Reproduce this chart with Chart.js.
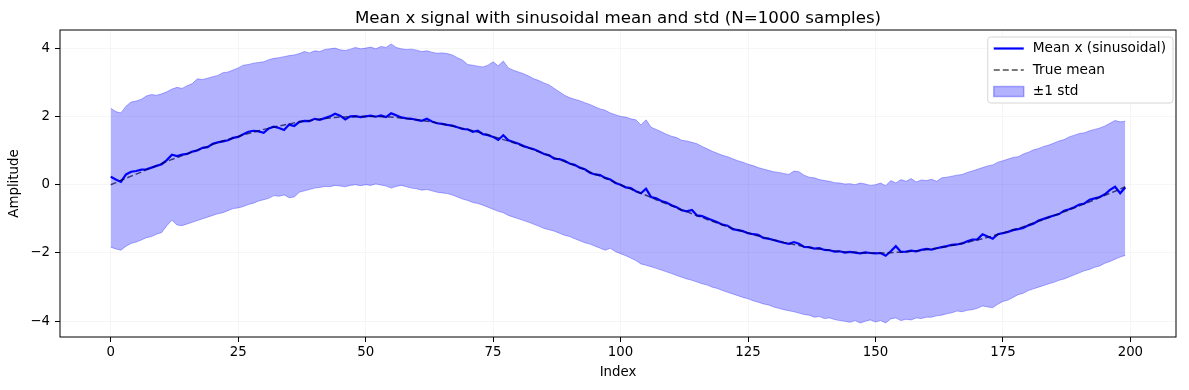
<!DOCTYPE html>
<html>
<head>
<meta charset="utf-8">
<script src="https://cdn.jsdelivr.net/npm/chart.js@4.4.0/dist/chart.umd.min.js"></script>
<style>
  html, body { margin: 0; padding: 0; background: #fff; }
  canvas { display: block; }
</style>
</head>
<body>
<canvas id="signalChart" width="1189" height="390"></canvas>
<script>
// tick labels
const xTicks = [0, 25, 50, 75, 100, 125, 150, 175, 200];
const yTicks = [-4, -2, 0, 2, 4];

// values, index 0..199
const meanX = [
  0.23, 0.15, 0.08, 0.30, 0.38, 0.40, 0.44, 0.45, 0.50, 0.55,
  0.60, 0.72, 0.88, 0.84, 0.88, 0.90, 0.97, 1.00, 1.08, 1.10,
  1.20, 1.24, 1.27, 1.30, 1.37, 1.40, 1.48, 1.55, 1.58, 1.56,
  1.52, 1.65, 1.70, 1.66, 1.60, 1.76, 1.72, 1.84, 1.87, 1.86,
  1.93, 1.90, 1.95, 2.00, 2.08, 2.02, 1.91, 2.00, 2.01, 1.98,
  2.00, 2.02, 1.99, 2.03, 1.98, 2.09, 2.03, 1.97, 1.94, 1.93,
  1.90, 1.87, 1.93, 1.85, 1.80, 1.78, 1.75, 1.73, 1.68, 1.63,
  1.62, 1.55, 1.58, 1.48, 1.45, 1.40, 1.31, 1.45, 1.30, 1.25,
  1.20, 1.13, 1.08, 1.04, 0.97, 0.90, 0.86, 0.76, 0.75, 0.70,
  0.62, 0.58, 0.50, 0.45, 0.35, 0.30, 0.28, 0.20, 0.15, 0.05,
  0.00, -0.08, -0.10, -0.19, -0.25, -0.12, -0.36, -0.40, -0.48, -0.52,
  -0.60, -0.66, -0.75, -0.78, -0.74, -0.90, -0.92, -0.98, -1.04, -1.10,
  -1.17, -1.20, -1.30, -1.33, -1.36, -1.42, -1.45, -1.47, -1.56, -1.58,
  -1.62, -1.66, -1.70, -1.73, -1.68, -1.73, -1.82, -1.83, -1.87, -1.86,
  -1.91, -1.92, -1.96, -1.95, -1.99, -1.97, -1.99, -2.01, -1.98, -2.00,
  -2.01, -2.00, -2.08, -1.95, -1.80, -1.97, -1.96, -1.93, -1.95, -1.91,
  -1.88, -1.90, -1.86, -1.83, -1.80, -1.76, -1.75, -1.72, -1.66, -1.61,
  -1.60, -1.45, -1.52, -1.58, -1.45, -1.42, -1.38, -1.33, -1.30, -1.27,
  -1.19, -1.14, -1.05, -1.00, -0.95, -0.90, -0.86, -0.76, -0.72, -0.66,
  -0.58, -0.55, -0.44, -0.40, -0.36, -0.28, -0.15, -0.06, -0.25, -0.08
];

const trueMean = [
  0.00, 0.06, 0.13, 0.19, 0.25, 0.31, 0.37, 0.44, 0.50, 0.56,
  0.62, 0.68, 0.74, 0.79, 0.85, 0.91, 0.96, 1.02, 1.07, 1.12,
  1.18, 1.23, 1.28, 1.32, 1.37, 1.41, 1.46, 1.50, 1.54, 1.58,
  1.62, 1.65, 1.69, 1.72, 1.75, 1.78, 1.81, 1.84, 1.86, 1.88,
  1.90, 1.92, 1.94, 1.95, 1.97, 1.98, 1.98, 1.99, 2.00, 2.00,
  2.00, 2.00, 2.00, 1.99, 1.98, 1.98, 1.97, 1.95, 1.94, 1.92,
  1.90, 1.88, 1.86, 1.84, 1.81, 1.78, 1.75, 1.72, 1.69, 1.65,
  1.62, 1.58, 1.54, 1.50, 1.46, 1.41, 1.37, 1.32, 1.28, 1.23,
  1.18, 1.12, 1.07, 1.02, 0.96, 0.91, 0.85, 0.79, 0.74, 0.68,
  0.62, 0.56, 0.50, 0.44, 0.37, 0.31, 0.25, 0.19, 0.13, 0.06,
  0.00, -0.06, -0.13, -0.19, -0.25, -0.31, -0.37, -0.44, -0.50, -0.56,
  -0.62, -0.68, -0.74, -0.79, -0.85, -0.91, -0.96, -1.02, -1.07, -1.12,
  -1.18, -1.23, -1.28, -1.32, -1.37, -1.41, -1.46, -1.50, -1.54, -1.58,
  -1.62, -1.65, -1.69, -1.72, -1.75, -1.78, -1.81, -1.84, -1.86, -1.88,
  -1.90, -1.92, -1.94, -1.95, -1.97, -1.98, -1.98, -1.99, -2.00, -2.00,
  -2.00, -2.00, -2.00, -1.99, -1.98, -1.98, -1.97, -1.95, -1.94, -1.92,
  -1.90, -1.88, -1.86, -1.84, -1.81, -1.78, -1.75, -1.72, -1.69, -1.65,
  -1.62, -1.58, -1.54, -1.50, -1.46, -1.41, -1.37, -1.32, -1.28, -1.23,
  -1.18, -1.12, -1.07, -1.02, -0.96, -0.91, -0.85, -0.79, -0.74, -0.68,
  -0.62, -0.56, -0.50, -0.44, -0.37, -0.31, -0.25, -0.19, -0.13, -0.06
];

const stdUpper = [
  2.24, 2.14, 2.10, 2.30, 2.42, 2.45, 2.50, 2.60, 2.64, 2.62,
  2.66, 2.72, 2.80, 2.85, 2.82, 2.90, 2.96, 3.10, 3.08, 3.12,
  3.16, 3.20, 3.28, 3.30, 3.36, 3.42, 3.50, 3.52, 3.56, 3.58,
  3.60, 3.66, 3.70, 3.72, 3.75, 3.78, 3.80, 3.84, 3.90, 3.86,
  3.92, 3.90, 3.96, 3.98, 4.00, 3.95, 3.93, 3.97, 4.02, 3.98,
  4.00, 4.03, 3.98, 4.05, 4.02, 4.12, 4.02, 3.98, 3.96, 3.97,
  3.94, 3.90, 3.92, 3.88, 3.85, 3.86, 3.84, 3.80, 3.72, 3.65,
  3.52, 3.50, 3.47, 3.45, 3.50, 3.60, 3.48, 3.62, 3.42, 3.35,
  3.30, 3.25, 3.18, 3.10, 3.05, 2.98, 2.92, 2.82, 2.72, 2.62,
  2.55, 2.50, 2.46, 2.40, 2.35, 2.28, 2.22, 2.18, 2.10, 2.05,
  2.00, 1.98, 1.93, 1.90, 1.75, 1.90, 1.68, 1.62, 1.55, 1.48,
  1.42, 1.38, 1.30, 1.28, 1.24, 1.20, 1.12, 1.05, 0.98, 0.92,
  0.86, 0.82, 0.76, 0.70, 0.66, 0.60, 0.56, 0.50, 0.46, 0.42,
  0.38, 0.36, 0.33, 0.30, 0.40, 0.38, 0.28, 0.22, 0.20, 0.15,
  0.12, 0.10, 0.06, 0.05, 0.02, 0.03, 0.00, 0.05, 0.02, -0.02,
  0.00, 0.05, -0.03, 0.12, 0.05, 0.15, 0.10, 0.18, 0.08, 0.14,
  0.12, 0.16, 0.10, 0.20, 0.22, 0.25, 0.28, 0.30, 0.36, 0.40,
  0.45, 0.50, 0.55, 0.58, 0.66, 0.70, 0.75, 0.80, 0.82, 0.90,
  0.95, 1.02, 1.06, 1.12, 1.16, 1.22, 1.28, 1.32, 1.40, 1.45,
  1.50, 1.52, 1.58, 1.62, 1.66, 1.72, 1.80, 1.88, 1.84, 1.86
];

const stdLower = [
  -1.83, -1.88, -1.92, -1.80, -1.72, -1.68, -1.62, -1.55, -1.52, -1.45,
  -1.40, -1.20, -1.04, -1.18, -1.20, -1.15, -1.10, -1.05, -1.00, -0.95,
  -0.90, -0.85, -0.82, -0.76, -0.70, -0.68, -0.64, -0.58, -0.54, -0.48,
  -0.44, -0.40, -0.32, -0.34, -0.30, -0.38, -0.36, -0.22, -0.18, -0.14,
  -0.10, -0.08, -0.05, -0.06, -0.02, -0.04, -0.06, -0.02, 0.00, -0.03,
  0.00, -0.02, 0.02, -0.01, -0.04, -0.10, -0.05, -0.02, -0.06, -0.10,
  -0.12, -0.16, -0.14, -0.18, -0.22, -0.24, -0.26, -0.30, -0.36, -0.42,
  -0.46, -0.52, -0.55, -0.60, -0.66, -0.72, -0.78, -0.82, -0.90, -0.95,
  -1.00, -1.05, -1.10, -1.16, -1.22, -1.28, -1.32, -1.36, -1.42, -1.48,
  -1.52, -1.58, -1.64, -1.70, -1.74, -1.80, -1.86, -1.92, -1.86, -1.96,
  -2.02, -2.08, -2.15, -2.22, -2.32, -2.36, -2.40, -2.45, -2.50, -2.55,
  -2.60, -2.66, -2.71, -2.76, -2.80, -2.85, -2.90, -2.94, -3.00, -3.04,
  -3.10, -3.15, -3.20, -3.25, -3.30, -3.34, -3.40, -3.44, -3.49, -3.52,
  -3.58, -3.62, -3.66, -3.69, -3.72, -3.76, -3.80, -3.82, -3.88, -3.86,
  -3.92, -3.90, -3.95, -3.98, -4.00, -4.03, -3.98, -4.05, -4.00, -3.96,
  -4.02, -3.98, -4.05, -3.93, -3.90, -3.98, -3.94, -3.96, -3.90, -3.92,
  -3.88, -3.88, -3.84, -3.82, -3.78, -3.75, -3.70, -3.72, -3.68, -3.66,
  -3.62, -3.55, -3.58, -3.60, -3.50, -3.42, -3.38, -3.30, -3.22, -3.18,
  -3.10, -3.05, -3.00, -2.95, -2.90, -2.86, -2.80, -2.76, -2.70, -2.64,
  -2.58, -2.52, -2.48, -2.42, -2.38, -2.30, -2.25, -2.18, -2.12, -2.07
];

const FONT = '"DejaVu Sans", sans-serif';
const BAND = 'rgba(0, 0, 255, 0.3)';

const toPoints = arr => arr.map((y, i) => ({ x: i, y: y }));

// axes box + legend inside the plot, top right; title centred over the axes
const frameAndLegend = {
    id: 'frameAndLegend',
    afterLayout(chart) {
        const t = chart.titleBlock;
        if (t) {
            t.left = chart.chartArea.left;
            t.right = chart.chartArea.right;
            t.width = t.right - t.left;
        }
    },
    afterDatasetsDraw(chart) {
        const { ctx, chartArea: a } = chart;
        ctx.save();
        ctx.strokeStyle = '#000';
        ctx.lineWidth = 1;
        ctx.strokeRect(a.left, a.top, a.right - a.left, a.bottom - a.top);
        ctx.restore();
    },
    afterDraw(chart) {
        const { ctx, chartArea: a } = chart;
        const ds = chart.data.datasets;
        const entries = [ds[3], ds[2], ds[0]];
        ctx.save();
        ctx.font = '13.7px ' + FONT;
        const textW = Math.max(...entries.map(d => ctx.measureText(d.label).width));
        const right = a.right - 3;
        const top = a.top + 7;
        const w = 6 + 30 + 9 + textW + 7;
        const h = 66;
        const left = right - w;

        ctx.beginPath();
        ctx.roundRect(left, top, w, h, 3);
        ctx.fillStyle = 'rgba(255,255,255,0.8)';
        ctx.fill();
        ctx.strokeStyle = '#d6d6d6';
        ctx.lineWidth = 1;
        ctx.stroke();

        entries.forEach((d, i) => {
            const cy = top + 11.5 + i * 21.5;
            const hx = left + 6;
            if (d.fill) {
                ctx.fillStyle = BAND;
                ctx.fillRect(hx, cy - 5, 30, 10);
                ctx.strokeStyle = BAND;
                ctx.strokeRect(hx, cy - 5, 30, 10);
            } else {
                ctx.beginPath();
                ctx.setLineDash(d.borderDash || []);
                ctx.strokeStyle = d.borderColor;
                ctx.lineWidth = d.borderWidth;
                ctx.moveTo(hx, cy);
                ctx.lineTo(hx + 30, cy);
                ctx.stroke();
                ctx.setLineDash([]);
            }
            ctx.fillStyle = '#000';
            ctx.textBaseline = 'middle';
            ctx.textAlign = 'left';
            ctx.fillText(d.label, hx + 39, cy);
        });
        ctx.restore();
    }
};

new Chart(document.getElementById('signalChart').getContext('2d'), {
    type: 'line',
    data: {
        datasets: [
            {
                label: '±1 std',
                data: toPoints(stdUpper),
                borderColor: BAND,
                borderWidth: 1,
                backgroundColor: BAND,
                fill: '+1',
                pointRadius: 0
            },
            {
                label: '',
                data: toPoints(stdLower),
                borderColor: BAND,
                borderWidth: 1,
                fill: false,
                pointRadius: 0
            },
            {
                label: 'True mean',
                data: toPoints(trueMean),
                borderColor: 'rgba(0, 0, 0, 0.7)',
                borderDash: [6, 3],
                borderWidth: 1.5,
                fill: false,
                pointRadius: 0
            },
            {
                label: 'Mean x (sinusoidal)',
                data: toPoints(meanX),
                borderColor: '#0000ff',
                borderWidth: 2.2,
                fill: false,
                pointRadius: 0
            }
        ]
    },
    options: {
        responsive: false,
        animation: false,
        layout: { padding: { left: 0, right: 13, top: 0, bottom: 0 } },
        elements: { line: { tension: 0 } },
        plugins: {
            legend: { display: false },
            tooltip: { enabled: false },
            title: {
                display: true,
                text: 'Mean x signal with sinusoidal mean and std (N=1000 samples)',
                color: '#000',
                font: { family: FONT, size: 16.67, weight: 'normal', lineHeight: 1.2 },
                padding: { top: 9, bottom: 1 }
            }
        },
        scales: {
            x: {
                type: 'linear',
                min: -9.95,
                max: 208.95,
                afterBuildTicks: s => { s.ticks = xTicks.map(v => ({ value: v })); },
                afterFit: s => { s.height = 53; },
                border: { display: false },
                grid: { color: 'rgba(0,0,0,0.035)', tickColor: '#000', tickLength: 5 },
                ticks: { color: '#000', font: { family: FONT, size: 13.33 }, padding: 3, maxRotation: 0, autoSkip: false },
                title: { display: true, text: 'Index', color: '#000', font: { family: FONT, size: 13.33 }, padding: { top: 0, bottom: 9 } }
            },
            y: {
                min: -4.46,
                max: 4.53,
                afterBuildTicks: s => { s.ticks = yTicks.map(v => ({ value: v })); },
                afterFit: s => { s.width = 60; },
                border: { display: false },
                grid: { color: 'rgba(0,0,0,0.035)', tickColor: '#000', tickLength: 5 },
                ticks: { color: '#000', font: { family: FONT, size: 13.33 }, padding: 5, callback: v => v < 0 ? '\u2212' + Math.abs(v) : String(v) },
                title: { display: true, text: 'Amplitude', color: '#000', font: { family: FONT, size: 13.33 }, padding: { top: 7, bottom: 0 } }
            }
        }
    },
    plugins: [frameAndLegend]
});
</script>
</body>
</html>
